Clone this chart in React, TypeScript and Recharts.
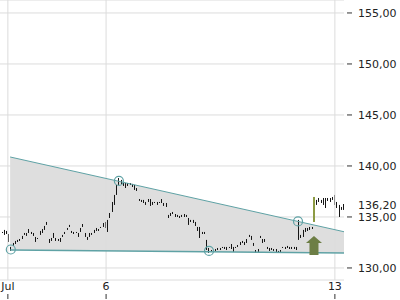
import React from 'react';
import { ComposedChart, Bar, Area, Line, XAxis, YAxis, CartesianGrid, ReferenceDot, ReferenceLine } from 'recharts';

// bar highs / lows, one entry per period
const highs = [
	133.53, 133.73, 133.63, 133.33, 132.06, 132.45, 132.65, 132.75, 132.84, 133.14,
	133.43, 133.43, 133.82, 133.53, 133.43, 133.04, 132.94, 133.63, 133.82, 134.12,
	134.51, 132.84, 132.94, 133.43, 132.94, 132.84, 132.94, 133.24, 133.53, 133.92,
	134.22, 133.63, 133.53, 133.53, 133.43, 133.92, 134.31, 133.43, 133.04, 133.43,
	133.43, 133.73, 133.92, 133.82, 134.02, 134.41, 134.51, 134.71, 135.39, 136.47,
	137.16, 138.14, 138.82, 138.63, 138.33, 138.33, 138.33, 138.33, 138.24, 138.14,
	137.84, 136.76, 136.67, 136.67, 136.47, 136.76, 136.76, 136.47, 136.47, 136.47,
	136.47, 136.76, 136.37, 136.37, 135.2, 135.39, 135.49, 135.29, 135.2, 135.1,
	135.2, 135.29, 135.2, 134.9, 134.71, 134.71, 134.51, 134.02, 134.02, 133.53,
	133.53, 132.75, 131.96, 131.76, 131.76, 131.86, 131.96, 131.96, 132.06, 132.06,
	132.06, 132.06, 132.35, 132.06, 132.06, 132.25, 132.55, 132.65, 132.55, 132.84,
	133.24, 133.14, 132.45, 131.76, 131.86, 133.14, 132.84, 132.84, 132.06, 131.96,
	131.96, 131.86, 131.86, 131.67, 131.76, 132.06, 132.06, 132.16, 132.06, 132.06,
	132.06, 132.06, 134.71, 133.24, 133.73, 133.92, 133.92, 134.02, 134.02, 136.96,
	136.67, 136.86, 136.67, 136.86, 136.86, 136.86, 136.86, 136.96, 137.16, 136.47,
	136.18, 135.98, 136.27,
];
const lows = [
	133.43, 133.24, 133.33, 132.55, 131.67, 132.16, 132.35, 132.55, 132.65, 132.84,
	133.24, 133.14, 133.43, 133.33, 133.14, 132.55, 132.84, 133.24, 133.43, 133.73,
	134.22, 132.45, 132.65, 132.94, 132.65, 132.65, 132.55, 133.04, 133.33, 133.73,
	134.02, 133.43, 133.33, 133.43, 133.04, 133.53, 134.02, 133.04, 132.75, 133.04,
	133.24, 133.43, 133.63, 133.63, 133.92, 134.02, 133.92, 133.53, 134.9, 135.49,
	136.18, 137.16, 138.14, 138.24, 138.04, 137.84, 138.04, 138.14, 137.94, 137.65,
	137.55, 136.57, 136.47, 136.37, 136.18, 136.47, 136.08, 136.18, 136.37, 136.18,
	136.37, 136.37, 136.08, 135.98, 134.9, 135.1, 135.29, 135.0, 135.0, 134.9,
	135.0, 135.0, 135.0, 134.22, 134.51, 134.41, 134.12, 133.63, 132.94, 133.33,
	133.33, 131.76, 131.47, 131.57, 131.57, 131.67, 131.76, 131.76, 131.96, 131.86,
	131.76, 131.96, 131.86, 131.57, 131.96, 132.06, 132.25, 132.45, 132.25, 132.45,
	133.04, 132.75, 132.16, 131.47, 131.57, 132.94, 132.45, 132.55, 131.86, 131.67,
	131.76, 131.67, 131.57, 131.47, 131.57, 131.96, 131.86, 131.96, 131.86, 131.86,
	131.86, 131.76, 132.75, 132.94, 133.04, 133.53, 133.63, 133.73, 133.82, 134.51,
	136.18, 136.47, 136.37, 136.18, 135.88, 136.57, 136.47, 136.67, 136.18, 135.88,
	135.0, 135.69, 135.69,
];
const signalBar = 139;

const dayTicks = [3, 46.7, 148.5];
const dayLabels = ['Jul', '6', '13'];
const priceTicks = [130, 135, 140, 145, 150, 155];
const lastPrice = 136.2;

// triangle pattern
const trendX = [4, 153];
const upperLine = [140.88, 133.53];
const lowerLine = [131.76, 131.47];
const pivotX = [4.3, 52.4, 92.5, 132.1];
const pivotY = [131.81, 138.53, 131.67, 134.56];
const arrowX = 139.2;
const arrowTop = 133.14;

const bars = highs.map((h, i) => ({ i, range: [lows[i], h] }));
const triangle = trendX.map((i, k) => ({ i, band: [lowerLine[k], upperLine[k]], top: upperLine[k], bottom: lowerLine[k] }));

const TEAL = '#5fa2a5';
const GRID = '#dcdcdc';
const FONT = 'DejaVu Sans, sans-serif';
const fmt = (v: number) => v.toFixed(2).replace('.', ',');

const PriceTick = ({ x, y, payload }: any) => (
	<g>
		<line x1={x + 2} x2={x + 7} y1={y} y2={y} stroke="#333" />
		<text x={x + 13} y={y + 4} fontSize={11} fontFamily={FONT} fill="#222">
			{fmt(payload.value)}
		</text>
	</g>
);

const DayTick = ({ x, payload }: any) => (
	<g>
		<text x={x} y={290} textAnchor="middle" fontSize={11} fontFamily={FONT} fill="#222">
			{dayLabels[dayTicks.indexOf(payload.value)]}
		</text>
		<line x1={x} x2={x} y1={294} y2={299} stroke="#333" />
	</g>
);

const OhlcBar = (p: any) => {
	const { x, y, width, height, index } = p;
	const green = index === signalBar;
	const cx = Math.round(x + width / 2);
	return (
		<rect
			x={green ? cx - 1 : cx}
			y={y}
			width={green ? 2 : 1}
			height={Math.max(Math.abs(height), 1)}
			fill={green ? '#8d9b44' : '#151515'}
		/>
	);
};

const UpArrow = ({ cx, cy }: any) => (
	<path
		d={`M${cx},${cy} L${cx + 8},${cy + 7} L${cx + 4.5},${cy + 7} L${cx + 4.5},${cy + 19} L${cx - 4.5},${cy + 19} L${cx - 4.5},${cy + 7} L${cx - 8},${cy + 7} Z`}
		fill="#6d7e45"
	/>
);

export default function App() {
	return (
		<div style={{ position: 'absolute', left: 0, top: 0, background: '#fff' }}>
			<ComposedChart width={400} height={300} data={bars} margin={{ top: 0, right: 0, bottom: 0, left: 0 }}>
				<CartesianGrid stroke={GRID} vertical={false} />
				{dayTicks.map((t) => (
					<ReferenceLine key={t} x={t} stroke={GRID} />
				))}
				<XAxis
					dataKey="i"
					type="number"
					domain={[-0.5, 153]}
					ticks={dayTicks}
					tick={<DayTick />}
					tickLine={false}
					axisLine={false}
					stroke="none"
					height={20}
					interval={0}
				/>
				<YAxis
					orientation="right"
					type="number"
					domain={[128.82, 156.27]}
					ticks={priceTicks}
					tick={<PriceTick />}
					tickLine={false}
					axisLine={false}
					stroke="none"
					tickSize={0}
					tickMargin={0}
					width={55}
					interval={0}
				/>
				<Area
					data={triangle}
					dataKey="band"
					type="linear"
					fill="#dedede"
					fillOpacity={1}
					stroke="none"
					dot={false}
					activeDot={false}
					isAnimationActive={false}
				/>
				<Line data={triangle} dataKey="top" type="linear" stroke={TEAL} strokeWidth={1} dot={false} activeDot={false} isAnimationActive={false} />
				<Line data={triangle} dataKey="bottom" type="linear" stroke={TEAL} strokeWidth={1.5} dot={false} activeDot={false} isAnimationActive={false} />
				<Bar dataKey="range" barSize={1} shape={<OhlcBar />} isAnimationActive={false} />
				{pivotX.map((x, k) => (
					<ReferenceDot key={k} x={x} y={pivotY[k]} r={4.5} fill="none" stroke={TEAL} strokeWidth={1.2} />
				))}
				<ReferenceDot x={arrowX} y={arrowTop} shape={<UpArrow />} />
				<ReferenceLine
					y={lastPrice}
					stroke="none"
					label={({ viewBox }: any) => (
						<text x={viewBox.x + viewBox.width + 13} y={viewBox.y + 4} fontSize={11} fontFamily={FONT} fill="#222">
							{fmt(lastPrice)}
						</text>
					)}
				/>
			</ComposedChart>
			{/* gap between the plot and the price scale */}
			<div style={{ position: 'absolute', left: 344, top: 0, width: 2, height: 281, background: '#fff' }} />
		</div>
	);
}
